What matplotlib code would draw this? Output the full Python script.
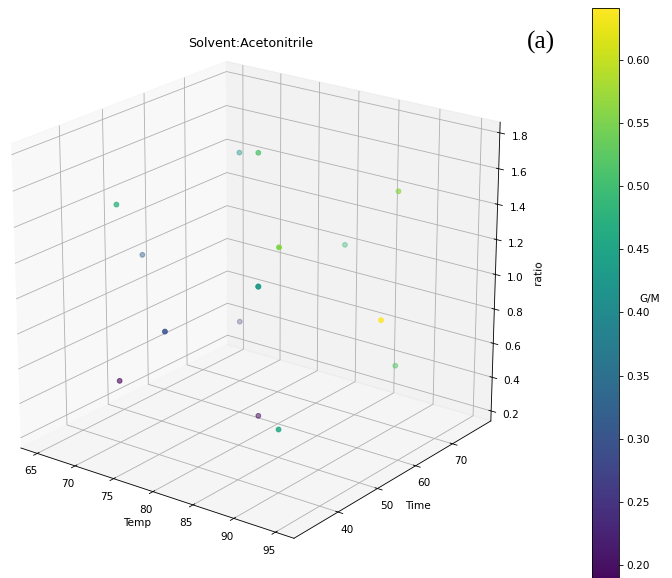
import numpy as np
import matplotlib
matplotlib.use("Agg")
import matplotlib.pyplot as plt

# Central composite design (alpha = 1.5) with one replicated centre point
temp = [70, 90, 70, 90, 70, 90, 70, 90, 65, 95, 80, 80, 80, 80, 80, 80, 80]
time = [40, 40, 70, 70, 40, 40, 70, 70, 55, 55, 32.5, 77.5, 55, 55, 55, 55, 55]
ratio = [0.5, 0.5, 0.5, 0.5, 1.5, 1.5, 1.5, 1.5, 1.0, 1.0, 1.0, 1.0, 0.25, 1.75, 1.0, 1.0, 1.0]
gm = [0.180, 0.457, 0.245, 0.520, 0.476, 0.555, 0.420, 0.560,
      0.320, 0.641, 0.300, 0.490, 0.190, 0.513, 0.430, 0.440, 0.420]

temp_ticks = [65, 70, 75, 80, 85, 90, 95]
time_ticks = [40, 50, 60, 70]
ratio_ticks = [0.2, 0.4, 0.6, 0.8, 1.0, 1.2, 1.4, 1.6, 1.8]
cbar_ticks = [0.20, 0.25, 0.30, 0.35, 0.40, 0.45, 0.50, 0.55, 0.60]

DPI = 76
fig = plt.figure(figsize=(672 / DPI, 578 / DPI), dpi=DPI)
ax = fig.add_axes([-0.0336, 0.0182, 0.814, 0.9464], projection='3d')
ax.set_box_aspect((1.058, 1.058, 1), zoom=1.033)
ax.view_init(elev=21.3, azim=-53)

sc = ax.scatter(temp, time, ratio, c=gm, cmap='viridis', s=20)

ax.set_xlim(62.81, 97.19)
ax.set_ylim(29.22, 80.78)
ax.set_zlim(0.1406, 1.8594)
ax.set_xticks(temp_ticks)
ax.set_yticks(time_ticks)
ax.set_zticks(ratio_ticks)
ax.tick_params(axis='x', pad=0.5)
ax.tick_params(axis='y', pad=0.5)
ax.set_xlabel('Temp', labelpad=-1)
ax.set_ylabel('Time', labelpad=-1)
ax.set_zlabel('ratio')
ax.set_title('Solvent:Acetonitrile', y=1.021)

cax = fig.add_axes([0.8805, -0.0208, 0.0411, 1.0064])
cbar = fig.colorbar(sc, cax=cax, ticks=cbar_ticks, format='%.2f')
cbar.ax.set_ylabel('G/M', rotation=0, ha='center', va='center')
cbar.ax.yaxis.set_label_coords(2.11, 0.5)

fig.text(541 / 672, 1 - 42 / 578, '(a)', family='Liberation Serif',
         fontsize=24, ha='center', va='center')

fig.savefig('out.png', dpi=DPI)
